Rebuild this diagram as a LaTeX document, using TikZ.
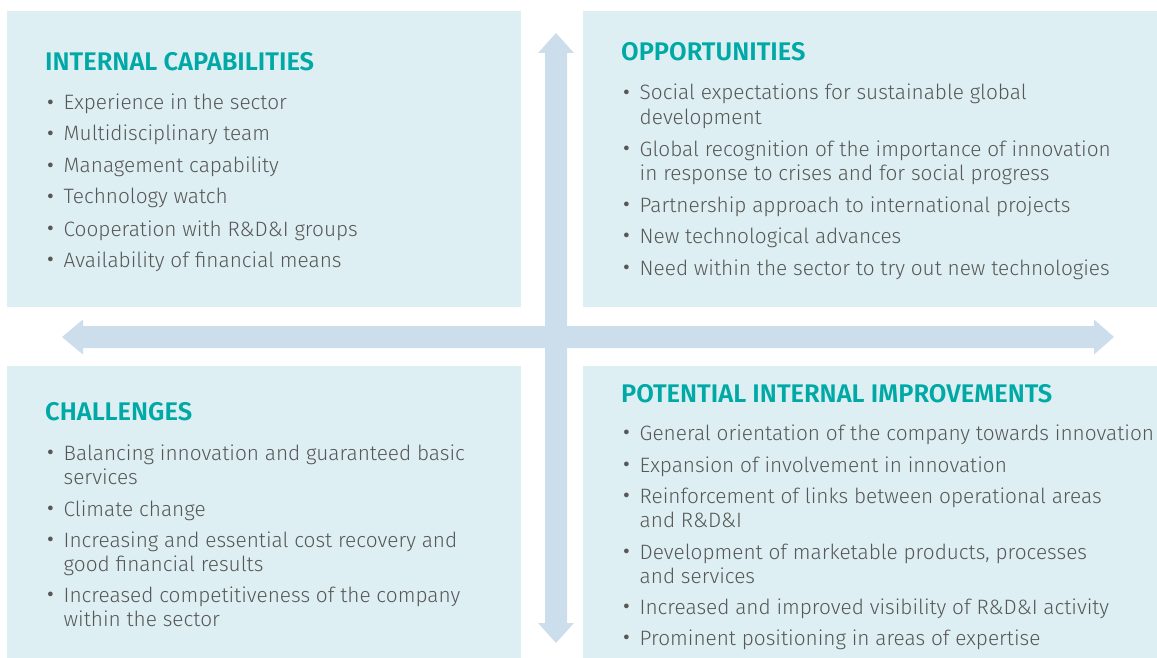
\documentclass[tikz,border=0pt]{standalone}
\usepackage{fontspec}
\setmainfont{Fira Sans}[UprightFont=* Light]
\newfontfamily\titlefont{Fira Sans}[UprightFont=* SemiBold]
\newfontfamily\dotfont{Fira Sans}
\definecolor{panel}{HTML}{DDEFF2}
\definecolor{arrowfill}{HTML}{CCDEEC}
\definecolor{headcol}{HTML}{00A9A6}
\definecolor{bodycol}{HTML}{575757}
% bullet and hanging indent for list lines
\newcommand{\bul}{\makebox[16.5pt][l]{\dotfont\raisebox{0.3pt}{•}}}
\newcommand{\ind}{\hspace*{16.5pt}}
\tikzset{
  panelbox/.style={fill=panel, draw=none},
  head/.style={anchor=base west, inner sep=0pt, text=headcol,
    font=\titlefont\fontsize{25.5}{30}\selectfont},
  item/.style={anchor=base west, inner sep=0pt, align=left, text=bodycol,
    font=\fontsize{20.8}{24.5}\selectfont},
  % two-line items: the base anchor sits on the last line
  item2/.style={item, yshift=-24.5pt},
  bigarrow/.style={fill=arrowfill, draw=none}
}
\begin{document}
\begin{tikzpicture}[x=1pt,y=-1pt]
\useasboundingbox (0,0) rectangle (1157,658);

% four panels
\path[panelbox] (7,11) rectangle (521,307);
\path[panelbox] (583,11) rectangle (1157,307);
\path[panelbox] (7,366) rectangle (521,658);
\path[panelbox] (583,366) rectangle (1157,658);

% axes
\path[bigarrow] (556,33) -- (574,53) -- (567,53) -- (567,623) -- (574,623)
  -- (556,643) -- (538,623) -- (545,623) -- (545,53) -- (538,53) -- cycle;
\path[bigarrow] (62,337) -- (83,319.5) -- (83,326) -- (1094,326) -- (1094,319.5)
  -- (1114,337) -- (1094,354.5) -- (1094,348) -- (83,348) -- (83,354.5) -- cycle;

% internal capabilities
\node[head] (tlh) at (45,71) {INTERNAL CAPABILITIES};
\node[item] (tl1) at (47,110) {\bul Experience in the sector};
\node[item] (tl2) at (47,141) {\bul Multidisciplinary team};
\node[item] (tl3) at (47,173) {\bul Management capability};
\node[item] (tl4) at (47,204) {\bul Technology watch};
\node[item] (tl5) at (47,236) {\bul Cooperation with R\&D\&I groups};
\node[item] (tl6) at (47,267) {\bul Availability of financial means};

% opportunities
\node[head] (trh) at (621,61) {OPPORTUNITIES};
\node[item2] (tr1) at (623,100) {\bul Social expectations for sustainable global\\\ind development};
\node[item2] (tr2) at (623,156) {\bul Global recognition of the importance of innovation\\\ind in response to crises and for social progress};
\node[item] (tr3) at (623,212) {\bul Partnership approach to international projects};
\node[item] (tr4) at (623,243) {\bul New technological advances};
\node[item] (tr5) at (623,275) {\bul Need within the sector to try out new technologies};

% challenges
\node[head] (blh) at (45,420) {CHALLENGES};
\node[item2] (bl1) at (47,460) {\bul Balancing innovation and guaranteed basic\\\ind services};
\node[item] (bl2) at (47,516) {\bul Climate change};
\node[item2] (bl3) at (47,547) {\bul Increasing and essential cost recovery and\\\ind good financial results};
\node[item2] (bl4) at (47,602) {\bul Increased competitiveness of the company\\\ind within the sector};

% potential internal improvements
\node[head] (brh) at (621,402) {POTENTIAL INTERNAL IMPROVEMENTS};
\node[item] (br1) at (623,440) {\bul General orientation of the company towards innovation};
\node[item] (br2) at (623,472) {\bul Expansion of involvement in innovation};
\node[item2] (br3) at (623,503) {\bul Reinforcement of links between operational areas\\\ind and R\&D\&I};
\node[item2] (br4) at (623,559) {\bul Development of marketable products, processes\\\ind and services};
\node[item] (br5) at (623,614) {\bul Increased and improved visibility of R\&D\&I activity};
\node[item] (br6) at (623,645) {\bul Prominent positioning in areas of expertise};
\end{tikzpicture}
\end{document}
